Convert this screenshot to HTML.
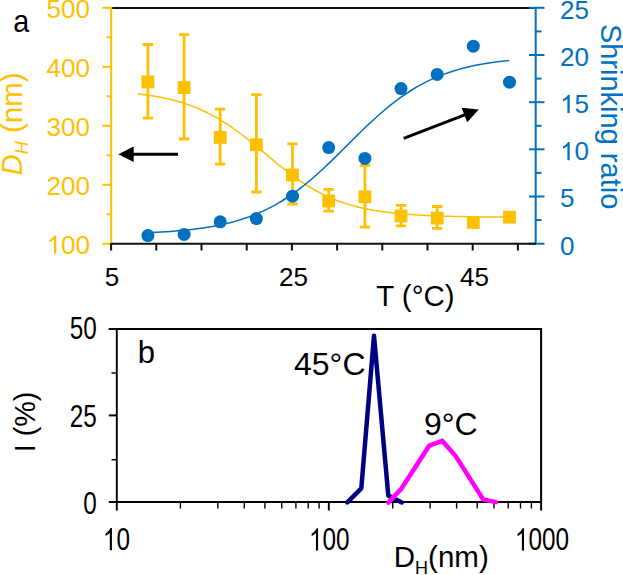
<!DOCTYPE html>
<html><head><meta charset="utf-8"><style>
html,body{margin:0;padding:0;background:#fff;width:623px;height:575px;overflow:hidden}
svg{display:block}
text{font-family:"Liberation Sans",sans-serif}
</style></head><body>
<svg width="623" height="575" viewBox="0 0 623 575">
<line x1="111" y1="8" x2="536" y2="8" stroke="#111" stroke-width="2"/>
<line x1="111.2" y1="7" x2="111.2" y2="244" stroke="#FFC000" stroke-width="2"/>
<line x1="102.5" y1="7.8" x2="111.2" y2="7.8" stroke="#FFC000" stroke-width="2"/>
<line x1="106.5" y1="37.3" x2="111.2" y2="37.3" stroke="#FFC000" stroke-width="2"/>
<line x1="102.5" y1="66.8" x2="111.2" y2="66.8" stroke="#FFC000" stroke-width="2"/>
<line x1="106.5" y1="96.3" x2="111.2" y2="96.3" stroke="#FFC000" stroke-width="2"/>
<line x1="102.5" y1="125.8" x2="111.2" y2="125.8" stroke="#FFC000" stroke-width="2"/>
<line x1="106.5" y1="155.3" x2="111.2" y2="155.3" stroke="#FFC000" stroke-width="2"/>
<line x1="102.5" y1="184.8" x2="111.2" y2="184.8" stroke="#FFC000" stroke-width="2"/>
<line x1="106.5" y1="214.3" x2="111.2" y2="214.3" stroke="#FFC000" stroke-width="2"/>
<line x1="102.5" y1="243.8" x2="111.2" y2="243.8" stroke="#FFC000" stroke-width="2"/>
<line x1="535.7" y1="7" x2="535.7" y2="244" stroke="#0070C0" stroke-width="2"/>
<line x1="529" y1="7.8" x2="544.5" y2="7.8" stroke="#0070C0" stroke-width="2"/>
<line x1="535.7" y1="31.4" x2="541.5" y2="31.4" stroke="#0070C0" stroke-width="2"/>
<line x1="529" y1="55.0" x2="544.5" y2="55.0" stroke="#0070C0" stroke-width="2"/>
<line x1="535.7" y1="78.6" x2="541.5" y2="78.6" stroke="#0070C0" stroke-width="2"/>
<line x1="529" y1="102.2" x2="544.5" y2="102.2" stroke="#0070C0" stroke-width="2"/>
<line x1="535.7" y1="125.8" x2="541.5" y2="125.8" stroke="#0070C0" stroke-width="2"/>
<line x1="529" y1="149.3" x2="544.5" y2="149.3" stroke="#0070C0" stroke-width="2"/>
<line x1="535.7" y1="172.9" x2="541.5" y2="172.9" stroke="#0070C0" stroke-width="2"/>
<line x1="529" y1="196.5" x2="544.5" y2="196.5" stroke="#0070C0" stroke-width="2"/>
<line x1="535.7" y1="220.1" x2="541.5" y2="220.1" stroke="#0070C0" stroke-width="2"/>
<line x1="529" y1="243.7" x2="544.5" y2="243.7" stroke="#0070C0" stroke-width="2"/>
<line x1="111.5" y1="243.7" x2="536" y2="243.7" stroke="#111" stroke-width="2"/>
<line x1="111.1" y1="243" x2="111.1" y2="250.5" stroke="#111" stroke-width="2"/>
<line x1="156.3" y1="243" x2="156.3" y2="250.5" stroke="#111" stroke-width="2"/>
<line x1="201.5" y1="243" x2="201.5" y2="250.5" stroke="#111" stroke-width="2"/>
<line x1="246.7" y1="243" x2="246.7" y2="250.5" stroke="#111" stroke-width="2"/>
<line x1="291.9" y1="243" x2="291.9" y2="250.5" stroke="#111" stroke-width="2"/>
<line x1="337.1" y1="243" x2="337.1" y2="250.5" stroke="#111" stroke-width="2"/>
<line x1="382.3" y1="243" x2="382.3" y2="250.5" stroke="#111" stroke-width="2"/>
<line x1="427.5" y1="243" x2="427.5" y2="250.5" stroke="#111" stroke-width="2"/>
<line x1="472.7" y1="243" x2="472.7" y2="250.5" stroke="#111" stroke-width="2"/>
<line x1="517.9" y1="243" x2="517.9" y2="250.5" stroke="#111" stroke-width="2"/>
<path d="M137.5,93.8 L142.2,94.4 L147.0,95.0 L151.7,95.7 L156.4,96.5 L161.2,97.4 L165.9,98.4 L170.6,99.5 L175.4,100.7 L180.1,102.0 L184.8,103.5 L189.6,105.1 L194.3,106.9 L199.0,108.8 L203.8,111.0 L208.5,113.3 L213.2,115.8 L218.0,118.4 L222.7,121.3 L227.4,124.4 L232.2,127.6 L236.9,131.0 L241.7,134.5 L246.4,138.2 L251.1,142.0 L255.9,145.9 L260.6,149.8 L265.3,153.7 L270.1,157.7 L274.8,161.6 L279.5,165.5 L284.3,169.2 L289.0,172.9 L293.7,176.4 L298.5,179.8 L303.2,183.0 L307.9,186.0 L312.7,188.8 L317.4,191.5 L322.1,193.9 L326.9,196.2 L331.6,198.3 L336.3,200.2 L341.1,202.0 L345.8,203.6 L350.5,205.0 L355.3,206.3 L360.0,207.5 L364.7,208.6 L369.5,209.5 L374.2,210.4 L378.9,211.1 L383.7,211.8 L388.4,212.4 L393.1,213.0 L397.9,213.5 L402.6,213.9 L407.3,214.3 L412.1,214.6 L416.8,214.9 L421.6,215.2 L426.3,215.5 L431.0,215.7 L435.8,215.9 L440.5,216.0 L445.2,216.2 L450.0,216.3 L454.7,216.4 L459.4,216.5 L464.2,216.6 L468.9,216.7 L473.6,216.8 L478.4,216.8 L483.1,216.9 L487.8,216.9 L492.6,217.0 L497.3,217.0 L502.0,217.0 L506.8,217.1 L511.5,217.1" fill="none" stroke="#FFC000" stroke-width="1.5"/>
<path d="M147.9,44.5 V118.2 M142.7,44.5 H153.1 M142.7,118.2 H153.1" stroke="#FFC000" stroke-width="2.8" fill="none"/>
<rect x="141.5" y="75.5" width="12.8" height="12.8" fill="#FFC000"/>
<path d="M184.1,34.6 V139 M178.9,34.6 H189.3 M178.9,139 H189.3" stroke="#FFC000" stroke-width="2.8" fill="none"/>
<rect x="177.7" y="81.2" width="12.8" height="12.8" fill="#FFC000"/>
<path d="M220.2,109.2 V164.1 M215.0,109.2 H225.4 M215.0,164.1 H225.4" stroke="#FFC000" stroke-width="2.8" fill="none"/>
<rect x="213.8" y="131.0" width="12.8" height="12.8" fill="#FFC000"/>
<path d="M256.4,94.7 V192 M251.2,94.7 H261.6 M251.2,192 H261.6" stroke="#FFC000" stroke-width="2.8" fill="none"/>
<rect x="250.0" y="138.4" width="12.8" height="12.8" fill="#FFC000"/>
<path d="M292.5,143.8 V204 M287.3,143.8 H297.7 M287.3,204 H297.7" stroke="#FFC000" stroke-width="2.8" fill="none"/>
<rect x="286.1" y="168.6" width="12.8" height="12.8" fill="#FFC000"/>
<path d="M328.7,189.3 V211.1 M323.5,189.3 H333.9 M323.5,211.1 H333.9" stroke="#FFC000" stroke-width="2.8" fill="none"/>
<rect x="322.3" y="194.6" width="12.8" height="12.8" fill="#FFC000"/>
<path d="M364.9,165.3 V227.1 M359.7,165.3 H370.1 M359.7,227.1 H370.1" stroke="#FFC000" stroke-width="2.8" fill="none"/>
<rect x="358.5" y="190.4" width="12.8" height="12.8" fill="#FFC000"/>
<path d="M401.0,205.4 V225.8 M395.8,205.4 H406.2 M395.8,225.8 H406.2" stroke="#FFC000" stroke-width="2.8" fill="none"/>
<rect x="394.6" y="209.6" width="12.8" height="12.8" fill="#FFC000"/>
<path d="M437.2,206.5 V228.4 M432.0,206.5 H442.4 M432.0,228.4 H442.4" stroke="#FFC000" stroke-width="2.8" fill="none"/>
<rect x="430.8" y="211.7" width="12.8" height="12.8" fill="#FFC000"/>
<rect x="466.9" y="216.1" width="12.8" height="12.8" fill="#FFC000"/>
<rect x="503.1" y="210.8" width="12.8" height="12.8" fill="#FFC000"/>
<path d="M142.8,233.0 L147.4,232.8 L152.1,232.6 L156.7,232.3 L161.4,232.0 L166.0,231.7 L170.6,231.4 L175.3,231.0 L179.9,230.6 L184.5,230.2 L189.2,229.7 L193.8,229.2 L198.5,228.6 L203.1,227.9 L207.7,227.2 L212.4,226.4 L217.0,225.5 L221.6,224.6 L226.3,223.5 L230.9,222.4 L235.6,221.1 L240.2,219.8 L244.8,218.3 L249.5,216.7 L254.1,214.9 L258.7,213.0 L263.4,210.9 L268.0,208.7 L272.7,206.3 L277.3,203.7 L281.9,201.0 L286.6,198.0 L291.2,194.9 L295.9,191.6 L300.5,188.1 L305.1,184.5 L309.8,180.7 L314.4,176.7 L319.0,172.5 L323.7,168.3 L328.3,163.9 L333.0,159.4 L337.6,154.9 L342.2,150.3 L346.9,145.6 L351.5,141.0 L356.1,136.4 L360.8,131.8 L365.4,127.3 L370.1,122.9 L374.7,118.7 L379.3,114.5 L384.0,110.5 L388.6,106.6 L393.3,102.9 L397.9,99.4 L402.5,96.1 L407.2,93.0 L411.8,90.0 L416.4,87.2 L421.1,84.6 L425.7,82.2 L430.4,79.9 L435.0,77.9 L439.6,75.9 L444.3,74.1 L448.9,72.5 L453.5,71.0 L458.2,69.6 L462.8,68.3 L467.5,67.2 L472.1,66.1 L476.7,65.1 L481.4,64.3 L486.0,63.5 L490.6,62.7 L495.3,62.1 L499.9,61.5 L504.6,60.9 L509.2,60.4" fill="none" stroke="#0070C0" stroke-width="1.5"/>
<circle cx="147.9" cy="235.6" r="6.5" fill="#0070C0"/>
<circle cx="184.1" cy="234.4" r="6.5" fill="#0070C0"/>
<circle cx="220.2" cy="221.8" r="6.5" fill="#0070C0"/>
<circle cx="256.4" cy="218.6" r="6.5" fill="#0070C0"/>
<circle cx="292.5" cy="196.2" r="6.5" fill="#0070C0"/>
<circle cx="328.7" cy="147.6" r="6.5" fill="#0070C0"/>
<circle cx="364.9" cy="158.4" r="6.5" fill="#0070C0"/>
<circle cx="401.0" cy="88.6" r="6.5" fill="#0070C0"/>
<circle cx="437.2" cy="74.4" r="6.5" fill="#0070C0"/>
<circle cx="473.3" cy="46.2" r="6.5" fill="#0070C0"/>
<circle cx="509.5" cy="82.2" r="6.5" fill="#0070C0"/>
<line x1="133" y1="154.3" x2="178" y2="154.3" stroke="#000" stroke-width="3"/>
<polygon points="118.3,154.3 133.7,146.6 133.7,162" fill="#000"/>
<line x1="403.7" y1="138.4" x2="466" y2="114.4" stroke="#000" stroke-width="3"/>
<polygon points="478.8,109.5 461.6,107.8 467.2,122.2" fill="#000"/>
<text transform="translate(13.2,31.9) scale(0.9,1)" font-family="Liberation Sans, sans-serif" font-size="32" fill="#000">a</text>
<text x="46.52" y="17.70" font-family="Liberation Sans, sans-serif" font-size="26" fill="#FFC000">500</text>
<text x="46.52" y="76.70" font-family="Liberation Sans, sans-serif" font-size="26" fill="#FFC000">400</text>
<text x="46.52" y="135.70" font-family="Liberation Sans, sans-serif" font-size="26" fill="#FFC000">300</text>
<text x="46.52" y="194.70" font-family="Liberation Sans, sans-serif" font-size="26" fill="#FFC000">200</text>
<text x="46.52" y="253.70" font-family="Liberation Sans, sans-serif" font-size="26" fill="#FFC000"> 00</text><path d="M763,0 L583,0 L583,1120 Q518,1060 412,1000 Q307,940 224,908 L224,1078 Q374,1148 487,1247 Q600,1346 647,1425 L763,1425 Z" fill="#FFC000" transform="translate(46.52,253.70) scale(0.01270,-0.01270)"/>
<text x="560.00" y="254.50" font-family="Liberation Sans, sans-serif" font-size="26" fill="#0070C0">0</text>
<text x="560.00" y="207.32" font-family="Liberation Sans, sans-serif" font-size="26" fill="#0070C0">5</text>
<text x="560.00" y="160.14" font-family="Liberation Sans, sans-serif" font-size="26" fill="#0070C0"> 0</text><path d="M763,0 L583,0 L583,1120 Q518,1060 412,1000 Q307,940 224,908 L224,1078 Q374,1148 487,1247 Q600,1346 647,1425 L763,1425 Z" fill="#0070C0" transform="translate(560.00,160.14) scale(0.01270,-0.01270)"/>
<text x="560.00" y="112.96" font-family="Liberation Sans, sans-serif" font-size="26" fill="#0070C0"> 5</text><path d="M763,0 L583,0 L583,1120 Q518,1060 412,1000 Q307,940 224,908 L224,1078 Q374,1148 487,1247 Q600,1346 647,1425 L763,1425 Z" fill="#0070C0" transform="translate(560.00,112.96) scale(0.01270,-0.01270)"/>
<text x="560.00" y="65.78" font-family="Liberation Sans, sans-serif" font-size="26" fill="#0070C0">20</text>
<text x="560.00" y="18.60" font-family="Liberation Sans, sans-serif" font-size="26" fill="#0070C0">25</text>
<text x="104.77" y="285.70" font-family="Liberation Sans, sans-serif" font-size="26" fill="#000">5</text>
<text x="278.94" y="285.70" font-family="Liberation Sans, sans-serif" font-size="26" fill="#000">25</text>
<text x="460.04" y="285.70" font-family="Liberation Sans, sans-serif" font-size="26" fill="#000">45</text>
<text x="376.2" y="305.6" font-family="Liberation Sans, sans-serif" font-size="29.5" fill="#000">T (°C)</text>
<text transform="translate(22,175.5) rotate(-90)" font-family="Liberation Sans, sans-serif" font-size="29.5" fill="#FFC000"><tspan font-style="italic">D</tspan><tspan font-style="italic" font-size="18" dy="6.3">H</tspan><tspan dy="-6.3"> (nm)</tspan></text>
<text transform="translate(601,23.9) rotate(90)" font-family="Liberation Sans, sans-serif" font-size="29" fill="#0070C0">Shrinking ratio</text>
<line x1="108.8" y1="329" x2="542" y2="329" stroke="#000" stroke-width="2"/>
<line x1="541.1" y1="328" x2="541.1" y2="510.5" stroke="#000" stroke-width="2"/>
<line x1="116.8" y1="328" x2="116.8" y2="510.5" stroke="#000" stroke-width="1.9"/>
<line x1="108.8" y1="501.9" x2="542" y2="501.9" stroke="#000" stroke-width="2"/>
<line x1="108.8" y1="329.0" x2="116.8" y2="329.0" stroke="#000" stroke-width="2"/>
<line x1="111.5" y1="373.0" x2="116.8" y2="373.0" stroke="#000" stroke-width="1.5"/>
<line x1="108.8" y1="415.4" x2="116.8" y2="415.4" stroke="#000" stroke-width="2"/>
<line x1="111.5" y1="459.7" x2="116.8" y2="459.7" stroke="#000" stroke-width="1.5"/>
<line x1="180.4" y1="502" x2="180.4" y2="508.5" stroke="#000" stroke-width="1.4"/>
<line x1="217.8" y1="502" x2="217.8" y2="508.5" stroke="#000" stroke-width="1.4"/>
<line x1="244.3" y1="502" x2="244.3" y2="508.5" stroke="#000" stroke-width="1.4"/>
<line x1="264.9" y1="502" x2="264.9" y2="508.5" stroke="#000" stroke-width="1.4"/>
<line x1="281.7" y1="502" x2="281.7" y2="508.5" stroke="#000" stroke-width="1.4"/>
<line x1="295.9" y1="502" x2="295.9" y2="508.5" stroke="#000" stroke-width="1.4"/>
<line x1="308.2" y1="502" x2="308.2" y2="508.5" stroke="#000" stroke-width="1.4"/>
<line x1="319.1" y1="502" x2="319.1" y2="508.5" stroke="#000" stroke-width="1.4"/>
<line x1="392.7" y1="502" x2="392.7" y2="508.5" stroke="#000" stroke-width="1.4"/>
<line x1="430.1" y1="502" x2="430.1" y2="508.5" stroke="#000" stroke-width="1.4"/>
<line x1="456.6" y1="502" x2="456.6" y2="508.5" stroke="#000" stroke-width="1.4"/>
<line x1="477.2" y1="502" x2="477.2" y2="508.5" stroke="#000" stroke-width="1.4"/>
<line x1="494.0" y1="502" x2="494.0" y2="508.5" stroke="#000" stroke-width="1.4"/>
<line x1="508.2" y1="502" x2="508.2" y2="508.5" stroke="#000" stroke-width="1.4"/>
<line x1="520.5" y1="502" x2="520.5" y2="508.5" stroke="#000" stroke-width="1.4"/>
<line x1="531.4" y1="502" x2="531.4" y2="508.5" stroke="#000" stroke-width="1.4"/>
<line x1="328.8" y1="502" x2="328.8" y2="510.5" stroke="#000" stroke-width="1.9"/>
<polyline points="347.3,502.4 361.3,488.4 374,335.8 388.3,495.5 401.8,502.4" fill="none" stroke="#000080" stroke-width="4.5" stroke-linejoin="round" stroke-linecap="round"/>
<polyline points="388.3,502.6 401.3,488.8 429.2,445.7 442.2,440.9 455.5,455.8 483.2,499.4 496.1,502.1" fill="none" stroke="#FF00FF" stroke-width="4.5" stroke-linecap="round"/>
<text x="69.75" y="339.50" font-family="Liberation Sans, sans-serif" font-size="32" fill="#000" transform="translate(69.75,0) scale(0.76,1) translate(-69.75,0)">50</text>
<text x="69.75" y="427.00" font-family="Liberation Sans, sans-serif" font-size="32" fill="#000" transform="translate(69.75,0) scale(0.76,1) translate(-69.75,0)">25</text>
<text x="83.27" y="513.70" font-family="Liberation Sans, sans-serif" font-size="32" fill="#000" transform="translate(83.27,0) scale(0.76,1) translate(-83.27,0)">0</text>
<text x="102.87" y="550.20" font-family="Liberation Sans, sans-serif" font-size="32" fill="#000" transform="translate(102.87,0) scale(0.76,1) translate(-102.87,0)"> 0</text><path d="M763,0 L583,0 L583,1120 Q518,1060 412,1000 Q307,940 224,908 L224,1078 Q374,1148 487,1247 Q600,1346 647,1425 L763,1425 Z" fill="#000" transform="translate(102.87,550.20) scale(0.01188,-0.01562)"/>
<text x="309.01" y="550.40" font-family="Liberation Sans, sans-serif" font-size="32" fill="#000" transform="translate(309.01,0) scale(0.76,1) translate(-309.01,0)"> 00</text><path d="M763,0 L583,0 L583,1120 Q518,1060 412,1000 Q307,940 224,908 L224,1078 Q374,1148 487,1247 Q600,1346 647,1425 L763,1425 Z" fill="#000" transform="translate(309.01,550.40) scale(0.01188,-0.01562)"/>
<text x="514.95" y="550.40" font-family="Liberation Sans, sans-serif" font-size="32" fill="#000" transform="translate(514.95,0) scale(0.76,1) translate(-514.95,0)"> 000</text><path d="M763,0 L583,0 L583,1120 Q518,1060 412,1000 Q307,940 224,908 L224,1078 Q374,1148 487,1247 Q600,1346 647,1425 L763,1425 Z" fill="#000" transform="translate(514.95,550.40) scale(0.01188,-0.01562)"/>
<text x="294" y="375" font-family="Liberation Sans, sans-serif" font-size="32" fill="#000">45°C</text>
<text x="424" y="435.2" font-family="Liberation Sans, sans-serif" font-size="32" fill="#000">9°C</text>
<text x="137.8" y="362.6" font-family="Liberation Sans, sans-serif" font-size="31" fill="#000">b</text>
<text transform="translate(34.6,452.3) rotate(-90) scale(0.96,1)" font-family="Liberation Sans, sans-serif" font-size="30" fill="#000">I (%)</text>
<text x="393.8" y="567.4" font-family="Liberation Sans, sans-serif" font-size="29.5" fill="#000">D<tspan font-size="18" dy="6.6">H</tspan><tspan dy="-6.6">(nm)</tspan></text>
</svg>
</body></html>
